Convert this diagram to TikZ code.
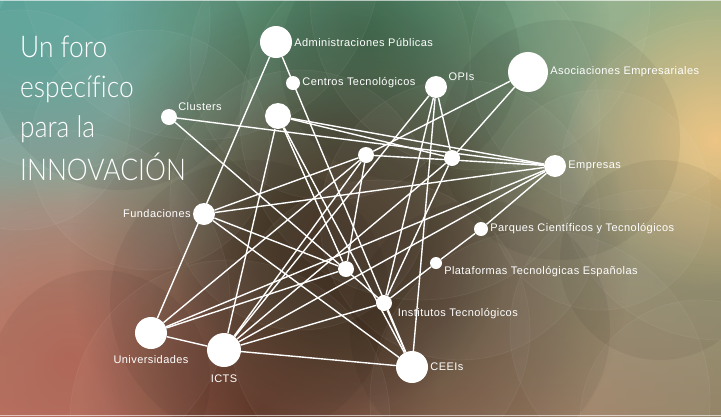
\documentclass[tikz,border=0pt]{standalone}
\usepackage{fontspec}
\setmainfont{Liberation Sans}[LetterSpace=4]
\newfontfamily\titlefont{Lato Light}[FakeStretch=0.88, Ligatures=NoCommon]
\usetikzlibrary{fadings, shadings}

\definecolor{bgtl}{HTML}{66AEA4}
\definecolor{bgtr}{HTML}{98AE84}
\definecolor{bgbl}{HTML}{C97866}
\definecolor{bgbr}{HTML}{8E7E60}
\definecolor{bggreen}{HTML}{2F6A48}
\definecolor{bgorange}{HTML}{EDC37E}
\definecolor{bgred}{HTML}{7A3F30}
\definecolor{bgdark}{HTML}{3A2818}
\definecolor{bgteal}{HTML}{5FAAA0}
\definecolor{bgsalmon}{HTML}{B86A58}

\tikzfading[name=blob, inner color=transparent!0, outer color=transparent!100]

\tikzset{
	dot/.style={circle, fill=white, inner sep=0pt, minimum size=#1, label distance=3pt},
	edge/.style={white, line width=1.4pt},
	lbl/.style={text=white, inner sep=2pt, font=\fontsize{11}{13}\selectfont},
	title/.style={text=white, inner sep=0pt, anchor=base west, font=\titlefont\fontsize{30}{36}\selectfont}
}

\begin{document}
\begin{tikzpicture}[x=1pt, y=-1pt]
	\useasboundingbox (0,0) rectangle (721,416);
	% background
	\begin{scope}[y=1pt]
		\shade[upper left=bgtl, upper right=bgtr, lower left=bgbl, lower right=bgbr]
			(0,-416) rectangle (721,0);
	\end{scope}
	\begin{scope}
		\clip (0,0) rectangle (721,416);
		\fill[bgteal, path fading=blob] (40,20) circle (190);
		\fill[bggreen, path fading=blob] (360,30) circle (250);
		\fill[bgorange, path fading=blob] (715,140) circle (150);
		\fill[bgsalmon, path fading=blob] (70,360) circle (190);
		\fill[bgred, path fading=blob] (260,410) circle (180);
		\fill[bgdark, path fading=blob] (350,260) circle (280);
		\fill[bgdark, path fading=blob] (340,240) circle (170);
		\foreach \cx/\cy/\r in {60/20/150, 200/-40/180, 330/60/140, 480/0/170,
			620/60/150, 720/180/160, 650/330/140, 540/400/170, 380/330/150,
			230/420/160, 60/300/170, 150/150/120, 300/200/130, 460/220/140,
			600/200/110, 700/420/120, 20/120/110, 420/120/180}{
			\fill[white, fill opacity=0.03] (\cx,\cy) circle (\r);
			\draw[white, draw opacity=0.06, line width=0.8pt] (\cx,\cy) circle (\r);
		}
		\foreach \cx/\cy/\r in {120/60/130, 400/60/120, 560/140/120, 250/300/140,
			480/330/130, 100/380/110, 660/260/100}{
			\fill[black, fill opacity=0.05] (\cx,\cy) circle (\r);
		}
	\end{scope}
	\draw[white, opacity=0.6, line width=1.5pt] (0,0.5) -- (721,0.5);
	\draw[white, opacity=0.6, line width=1.5pt] (0,415.5) -- (721,415.5);

	% title
	\node[title] (t1) at (20,57) {Un foro};
	\node[title] (t2) at (20,97) {específico};
	\node[title] (t3) at (20,137) {para la};
	\node[title] (t4) at (20,180) {INNOVACIÓN};

	% nodes
	\node[dot=32pt, label={[lbl]right:Administraciones Públicas}] (ap) at (276,42) {};
	\node[dot=14pt, label={[lbl]right:Centros Tecnológicos}] (ct) at (293,83) {};
	\node[dot=22pt, label={[lbl]20:OPIs}] (opis) at (436,87) {};
	\node[dot=40pt, label={[lbl]right:Asociaciones Empresariales}] (ae) at (528,72) {};
	\node[dot=16pt, label={[lbl]30:Clusters}] (clusters) at (169,117) {};
	\node[dot=26pt] (n1) at (278,116) {};
	\node[dot=16pt] (n2) at (366,155) {};
	\node[dot=16pt] (n3) at (452,158) {};
	\node[dot=22pt, label={[lbl]right:Empresas}] (empresas) at (555,166) {};
	\node[dot=22pt, label={[lbl]left:Fundaciones}] (fund) at (204,214) {};
	\node[dot=14pt, label={[lbl]right:Parques Científicos y Tecnológicos}] (pct) at (481,229) {};
	\node[dot=12pt, label={[lbl]-12:Plataformas Tecnológicas Españolas}] (pte) at (436,263) {};
	\node[dot=16pt, label={[lbl, xshift=4pt]-20:Institutos Tecnológicos}] (it) at (384,303) {};
	\node[dot=16pt] (n4) at (346,269) {};
	\node[dot=32pt, label={[lbl, yshift=-4pt]below:Universidades}] (univ) at (151,333) {};
	\node[dot=34pt, label={[lbl, yshift=-5pt]below:ICTS}] (icts) at (224,350) {};
	\node[dot=32pt, label={[lbl]right:CEEIs}] (ceeis) at (412,367) {};

	% connectors
	\draw[edge] (ap) -- (univ);
	\draw[edge] (ap) -- (ceeis);
	\draw[edge] (clusters) -- (empresas);
	\draw[edge] (clusters) -- (it);
	\draw[edge] (n1) -- (n3);
	\draw[edge] (n1) -- (empresas);
	\draw[edge] (n1) -- (icts);
	\draw[edge] (n1) -- (n4);
	\draw[edge] (n1) -- (ceeis);
	\draw[edge] (ae) -- (n2);
	\draw[edge] (ae) -- (n3);
	\draw[edge] (opis) -- (n3);
	\draw[edge] (opis) -- (icts);
	\draw[edge] (opis) -- (it);
	\draw[edge] (opis) -- (ceeis);
	\draw[edge] (n2) -- (fund);
	\draw[edge] (n2) -- (icts);
	\draw[edge] (n2) -- (n4);
	\draw[edge] (n2) -- (empresas);
	\draw[edge] (n2) -- (univ);
	\draw[edge] (n3) -- (icts);
	\draw[edge] (n3) -- (it);
	\draw[edge] (fund) -- (empresas);
	\draw[edge] (fund) -- (n4);
	\draw[edge] (fund) -- (ceeis);
	\draw[edge] (univ) -- (n4);
	\draw[edge] (univ) -- (icts);
	\draw[edge] (univ) -- (empresas);
	\draw[edge] (icts) -- (empresas);
	\draw[edge] (icts) -- (ceeis);
	\draw[edge] (icts) -- (it);
	\draw[edge] (empresas) -- (pct);
	\draw[edge] (pct) -- (pte);
	\draw[edge] (pte) -- (it);
	\draw[edge] (it) -- (ceeis);
\end{tikzpicture}
\end{document}
